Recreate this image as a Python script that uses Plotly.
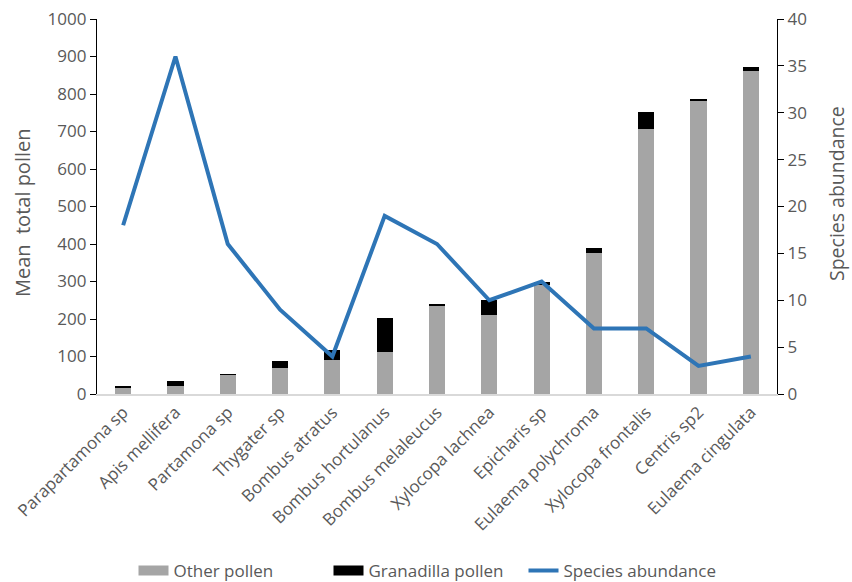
import plotly.graph_objects as go

species = ["Parapartamona sp", "Apis mellifera", "Partamona sp", "Thygater sp",
           "Bombus atratus", "Bombus hortulanus", "Bombus melaleucus", "Xylocopa lachnea",
           "Epicharis sp", "Eulaema polychroma", "Xylocopa frontalis", "Centris sp2",
           "Eulaema cingulata"]
other_pollen = [17, 21, 52, 70, 90, 112, 237, 210, 290, 377, 708, 783, 862]
granadilla_pollen = [2, 13, 1, 18, 27, 90, 3, 40, 10, 12, 43, 2, 10]
abundance = [18, 36, 16, 9, 4, 19, 16, 10, 12, 7, 7, 3, 4]

FONT = "Open Sans"
GREY_TXT = "#595959"
C_OTHER = "#A5A5A5"
C_GRAN = "#000000"
C_LINE = "#2E75B6"

fig = go.Figure()
fig.add_trace(go.Bar(x=species, y=other_pollen, name="Other pollen", showlegend=False,
                     marker=dict(color=C_OTHER, line=dict(width=0))))
fig.add_trace(go.Bar(x=species, y=granadilla_pollen, name="Granadilla pollen", showlegend=False,
                     marker=dict(color=C_GRAN, line=dict(width=0))))
fig.add_trace(go.Scatter(x=species, y=abundance, name="Species abundance", yaxis="y2",
                         mode="lines", line=dict(color=C_LINE, width=4), showlegend=False))
# legend entries (rectangular swatches like the original)
fig.add_trace(go.Scatter(x=[None], y=[None], name="Other pollen", mode="lines",
                         line=dict(color=C_OTHER, width=10)))
fig.add_trace(go.Scatter(x=[None], y=[None], name="Granadilla pollen", mode="lines",
                         line=dict(color=C_GRAN, width=10)))
fig.add_trace(go.Scatter(x=[None], y=[None], name="Species abundance", mode="lines",
                         line=dict(color=C_LINE, width=4)))

fig.update_layout(
    width=852, height=582,
    margin=dict(l=97, r=75, t=19, b=188, autoexpand=False),
    barmode="stack", bargap=0.69,
    plot_bgcolor="white", paper_bgcolor="white",
    font=dict(family=FONT, size=16, color=GREY_TXT),
    xaxis=dict(showline=True, linecolor="#D9D9D9", linewidth=1.5, tickangle=-45,
               tickfont=dict(size=17, color=GREY_TXT), ticks="", automargin=False),
    yaxis=dict(range=[0, 1000], dtick=100, showgrid=False, showline=True,
               linecolor="#000000", linewidth=1.2, ticks="outside", ticklen=6,
               tickcolor="#000000", zeroline=False, automargin=False,
               tickfont=dict(size=17, color=GREY_TXT)),
    yaxis2=dict(range=[0, 40], dtick=5, overlaying="y", side="right", showgrid=False,
                showline=True, linecolor="#000000", linewidth=1.2, ticks="outside",
                ticklen=6, tickcolor="#000000", zeroline=False, automargin=False,
                tickfont=dict(size=17, color=GREY_TXT)),
    legend=dict(orientation="h", x=0.5, xref="container", xanchor="center",
                y=0.019, yref="container", yanchor="middle", entrywidth=150,
                font=dict(size=17, color=GREY_TXT), traceorder="normal"),
    showlegend=True,
    annotations=[
        dict(text="Mean  total pollen", textangle=-90, xref="paper", yref="paper",
             x=-0.1103, y=0.4853, xanchor="center", yanchor="middle", showarrow=False,
             font=dict(size=20, color=GREY_TXT)),
        dict(text="Species abundance", textangle=-90, xref="paper", yref="paper",
             x=1.0868, y=0.5333, xanchor="center", yanchor="middle", showarrow=False,
             font=dict(size=19.5, color=GREY_TXT)),
    ],
)

fig.write_html("out.html")
